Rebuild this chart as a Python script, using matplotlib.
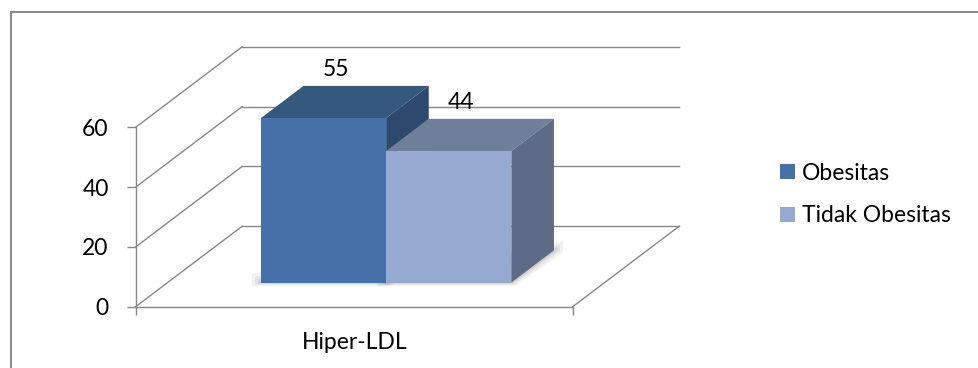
import matplotlib
matplotlib.use("Agg")
import matplotlib.pyplot as plt
from matplotlib.patches import Polygon, Rectangle, Patch
from matplotlib.lines import Line2D

plt.rcParams['font.family'] = ['Lato', 'DejaVu Sans']

# ---- data ----
categories = ['Hiper-LDL']
series = ['Obesitas', 'Tidak Obesitas']
values = [55, 44]
y_ticks = [0, 20, 40, 60]

# ---- style ----
front_colors = ['#4571a8', '#95a9d1']
top_colors = ['#35587f', '#6e7f9a']
side_colors = ['#2d4a6e', '#5d6b87']
grid_color = '#888888'
FS = 16.5

W_FIG, H_FIG = 979, 368
fig = plt.figure(figsize=(W_FIG / 100, H_FIG / 100), dpi=100)

# outer chart frame
fig.patches.append(Rectangle((10.5 / W_FIG, -0.2), 1.2, 1.2 - 11.5 / H_FIG,
                             transform=fig.transFigure, fill=False,
                             ec='#8c8c8c', lw=1.5))

# front plane of the 3-D box, in pixels
x_left, x_right, y_zero, y_top = 135.7, 572.7, 306.7, 127.3
ax = fig.add_axes([x_left / W_FIG, 1 - y_zero / H_FIG,
                   (x_right - x_left) / W_FIG, (y_zero - y_top) / H_FIG])
ax.set_xlim(-0.5, 0.5)
ax.set_ylim(0, max(y_ticks))
ax.patch.set_alpha(0)

# data units per pixel
PX = 1.0 / (x_right - x_left)
PY = max(y_ticks) / (y_zero - y_top)
# depth direction (full floor depth) expressed in data units
DX = 106.5 * PX
DY = 80.5 * PY


def proj(x, v, d):
    return (x + d * DX, v + d * DY)


def shift(p, dx, dy):
    return (p[0] + dx * PX, p[1] + dy * PY)


def seg(p, q):
    ax.add_line(Line2D([p[0], q[0]], [p[1], q[1]], color=grid_color, lw=1.0,
                       clip_on=False, zorder=1))


# back wall gridlines and side wall diagonals
for v in y_ticks:
    seg(proj(-0.5, v, 1), proj(0.5, v, 1))
    seg(proj(-0.5, v, 0), proj(-0.5, v, 1))
# right floor edge
seg(proj(0.5, 0, 0), proj(0.5, 0, 1))

# ---- 3-D bars ----
n = len(series)
bar_w = 0.2865
d0, d1 = 0.30, 0.70
for i, (name, val) in enumerate(zip(series, values)):
    x0 = (i - n / 2) * bar_w
    x1 = x0 + bar_w
    flb, frb, brb = proj(x0, 0, d0), proj(x1, 0, d0), proj(x1, 0, d1)
    # soft shadow around the base
    for e in (9, 6, 3.5, 1.5):
        shadow = [shift(flb, -e, e), shift(flb, -e, -0.4 * e), shift(frb, 0.4 * e, -0.4 * e),
                  shift(brb, e, -0.2 * e), shift(brb, e, e)]
        ax.add_patch(Polygon(shadow, closed=True, fc='#000000', alpha=0.05, lw=0,
                             clip_on=False, zorder=2))
    top = [proj(x0, val, d0), proj(x1, val, d0), proj(x1, val, d1), proj(x0, val, d1)]
    side = [frb, brb, proj(x1, val, d1), proj(x1, val, d0)]
    front = [flb, frb, proj(x1, val, d0), proj(x0, val, d0)]
    z = 3 + i
    ax.add_patch(Polygon(top, closed=True, fc=top_colors[i], ec='none', clip_on=False, zorder=z))
    ax.add_patch(Polygon(side, closed=True, fc=side_colors[i], ec='none', clip_on=False, zorder=z))
    ax.add_patch(Polygon(front, closed=True, fc=front_colors[i], ec='none', clip_on=False, zorder=z + 0.5))
    # value label above the bar
    ax.annotate(f'{val}', xy=proj((x0 + x1) / 2, val, 0.5), xytext=(-6.5, 23.5),
                textcoords='offset points', ha='center', va='center',
                fontsize=FS, color='black', zorder=10, annotation_clip=False)

# ---- axes ----
for s in ['top', 'right']:
    ax.spines[s].set_visible(False)
for s in ['left', 'bottom']:
    ax.spines[s].set_color(grid_color)
    ax.spines[s].set_linewidth(1.0)
    ax.spines[s].set_zorder(1)

ax.set_yticks(y_ticks)
ax.set_yticklabels([str(t) for t in y_ticks])
ax.tick_params(axis='y', direction='out', length=6.5, width=1.0, color=grid_color,
               pad=13, labelsize=FS)
ax.set_xticks([-0.5, 0.5])
ax.set_xticklabels(['', ''])
ax.tick_params(axis='x', which='major', direction='out', length=6, width=1.0, color=grid_color)
ax.set_xticks([0], categories, minor=True)
ax.tick_params(axis='x', which='minor', length=0, pad=18, labelsize=FS)

# ---- legend ----
handles = [Patch(fc=c, ec='none') for c in front_colors]
fig.legend(handles, series, loc='center left', bbox_to_anchor=(780 / W_FIG, 1 - 194.4 / H_FIG),
           frameon=False, fontsize=FS, handlelength=0.65, handleheight=0.65,
           handletextpad=0.3, labelspacing=0.95, borderpad=0, borderaxespad=0)

fig.savefig('out.png', dpi=100)
